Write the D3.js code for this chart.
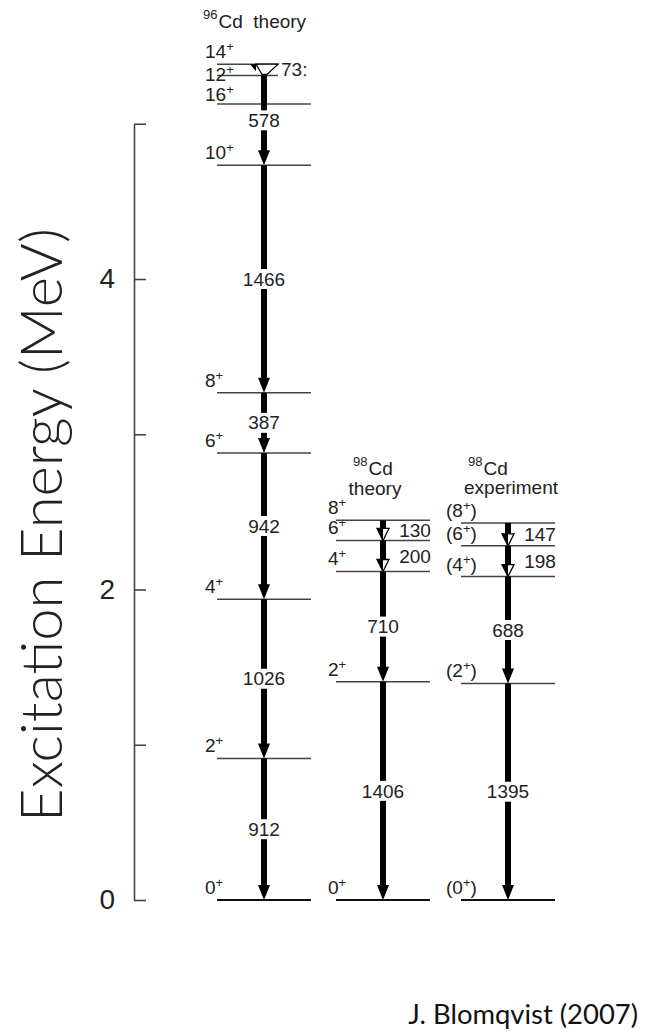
<!DOCTYPE html>
<html><head><meta charset="utf-8">
<script src="https://cdn.jsdelivr.net/npm/d3@7"></script>
<style>body{margin:0;background:#fff}svg{display:block}</style>
</head><body><svg id="c" width="646" height="1035"></svg>
<script>
// ---------------- DATA ----------------
const axisTicks = [0, 1, 2, 3, 4, 5];
const axisTickLabels = ["0", "", "2", "", "4", ""];

// 96Cd theory (energies in MeV)
const cd96Spins    = ["0", "2", "4", "6", "8", "10", "16", "12", "14"];
const cd96Energies = [0, 0.912, 1.938, 2.880, 3.267, 4.733, 5.127, 5.311, 5.384];
const cd96From  = ["14", "12", "10", "8", "6", "4", "2"];
const cd96To    = ["12", "10", "8", "6", "4", "2", "0"];
const cd96Gamma = ["73:", "578", "1466", "387", "942", "1026", "912"];

// 98Cd theory
const cd98tSpins    = ["0", "2", "4", "6", "8"];
const cd98tEnergies = [0, 1.406, 2.116, 2.316, 2.446];
const cd98tFrom  = ["8", "6", "4", "2"];
const cd98tTo    = ["6", "4", "2", "0"];
const cd98tGamma = ["130", "200", "710", "1406"];

// 98Cd experiment
const cd98eSpins    = ["0", "2", "4", "6", "8"];
const cd98eEnergies = [0, 1.395, 2.083, 2.281, 2.428];
const cd98eFrom  = ["8", "6", "4", "2"];
const cd98eTo    = ["6", "4", "2", "0"];
const cd98eGamma = ["147", "198", "688", "1395"];

const columnKeys = ["cd96", "cd98t", "cd98e"];

// ---------------- DRAW ----------------
const FONT = "'Liberation Sans', Arial, Helvetica, sans-serif";
const FS = 19;
const svg = d3.select("#c");
const y = d3.scaleLinear().domain([0, 5]).range([900, 123.75]);
const colX = d3.scaleOrdinal().domain(columnKeys).range([264, 383, 508]);

// axis
const axis = d3.axisLeft(y).tickValues(axisTicks)
  .tickFormat((d, i) => axisTickLabels[i])
  .tickSizeInner(-12).tickSizeOuter(0).tickPadding(19);
const ga = svg.append("g").attr("transform", "translate(134,0)").call(axis);
ga.select(".domain").attr("stroke", "#444").attr("stroke-width", 1.6);
ga.selectAll(".tick line").attr("stroke", "#444").attr("stroke-width", 1.6);
ga.selectAll(".tick text").attr("font-size", 28).attr("font-family", FONT).attr("fill", "#222");

// y label
const yl = svg.append("text")
  .attr("transform", "translate(62,525) rotate(-90)")
  .attr("text-anchor", "middle")
  .attr("font-family", "Lato, 'Open Sans', sans-serif")
  .attr("font-weight", 300)
  .attr("font-size", 40).attr("fill", "#222")
  .text("Excitation Energy (MeV)");
{ const w = yl.node().getComputedTextLength(); yl.attr("font-size", 40 * 594 / w); }

// credit
const cr = svg.append("text").attr("x", 638).attr("y", 1024)
  .attr("text-anchor", "end")
  .attr("font-family", "Lato, 'Open Sans', sans-serif")
  .attr("font-size", 30).attr("fill", "#111")
  .text("J. Blomqvist (2007)");
{ const w = cr.node().getComputedTextLength(); cr.attr("font-size", 30 * 230 / w); }

function spinLabel(x, yy, spin, paren) {
  const t = svg.append("text").attr("x", x).attr("y", yy)
    .attr("font-family", FONT).attr("font-size", FS).attr("fill", "#222");
  t.append("tspan").text((paren ? "(" : "") + spin);
  t.append("tspan").attr("font-size", 13).attr("dy", -7).text("+");
  if (paren) t.append("tspan").attr("font-size", FS).attr("dy", 7).text(")");
}

const columns = [
  { key: "cd96", spins: cd96Spins, E: cd96Energies, from: cd96From, to: cd96To, gam: cd96Gamma, paren: false, lab: -59 },
  { key: "cd98t", spins: cd98tSpins, E: cd98tEnergies, from: cd98tFrom, to: cd98tTo, gam: cd98tGamma, paren: false, lab: -55 },
  { key: "cd98e", spins: cd98eSpins, E: cd98eEnergies, from: cd98eFrom, to: cd98eTo, gam: cd98eGamma, paren: true, lab: -62 }
];

columns.forEach(col => {
  const cx = colX(col.key);
  const ey = s => y(col.E[col.spins.indexOf(s)]);
  // levels
  col.spins.forEach((s, i) => {
    const yy = y(col.E[i]);
    let x1 = cx + 47;
    if (col.key === "cd96" && (s === "12" || s === "14")) x1 = cx + 14;
    svg.append("line").attr("x1", cx - 47).attr("x2", x1).attr("y1", yy).attr("y2", yy)
      .attr("stroke", s === "0" ? "#111" : "#444").attr("stroke-width", s === "0" ? 2 : 1.5);
    let dy = -6;
    if (col.key === "cd96" && s === "12") dy = 6;
    if (col.key === "cd96" && s === "16") dy = -3;
    spinLabel(cx + col.lab, yy + dy, s, col.paren);
  });
  // transitions
  col.from.forEach((f, i) => {
    const y0 = ey(f), y1 = ey(col.to[i]);
    const len = y1 - y0;
    const g = col.gam[i];
    if (len < 15) {
      // tiny 14+ -> 12+ transition with funnel marker
      svg.append("path").attr("d", `M${cx-14},${y0}L${cx-8},${y0}L${cx-8},${y0+7}Z`).attr("fill", "#000");
      svg.append("path").attr("d", `M${cx-8},${y0}L${cx+14},${y0}L${cx+3},${y1-1}L${cx-2},${y1-1}Z`)
        .attr("fill", "#fff").attr("stroke", "#000").attr("stroke-width", 1.3);
      svg.append("text").attr("x", cx + 17).attr("y", (y0 + y1) / 2).attr("dy", "0.35em")
        .attr("font-family", FONT).attr("font-size", FS).attr("fill", "#222").text(g);
      return;
    }
    if (len < 40) {
      // short: half-open arrowhead, label beside
      const hl = 12, hw = 6;
      svg.append("rect").attr("x", cx - 3).attr("y", y0).attr("width", 6).attr("height", len - hl).attr("fill", "#000");
      svg.append("path").attr("d", `M${cx-hw},${y1-hl}L${cx+hw},${y1-hl}L${cx},${y1}Z`)
        .attr("fill", "#fff").attr("stroke", "#000").attr("stroke-width", 1.3);
      svg.append("path").attr("d", `M${cx-hw},${y1-hl}L${cx},${y1-hl}L${cx},${y1}Z`).attr("fill", "#000");
      svg.append("text").attr("x", cx + 32).attr("y", (y0 + y1) / 2).attr("dy", "0.35em")
        .attr("text-anchor", "middle").attr("font-family", FONT).attr("font-size", FS).attr("fill", "#222").text(g);
      return;
    }
    const hl = 15, hw = 6;
    svg.append("rect").attr("x", cx - 3).attr("y", y0).attr("width", 6).attr("height", len - hl + 1).attr("fill", "#000");
    svg.append("path").attr("d", `M${cx-hw},${y1-hl}L${cx+hw},${y1-hl}L${cx},${y1}Z`).attr("fill", "#000");
    const ym = (y0 + y1) / 2;
    const t = svg.append("text").attr("x", cx).attr("y", ym).attr("dy", "0.35em")
      .attr("text-anchor", "middle").attr("font-family", FONT).attr("font-size", FS).attr("fill", "#222").text(g);
    const w = t.node().getComputedTextLength();
    svg.insert("rect", () => t.node()).attr("x", cx - w / 2 - 2).attr("y", ym - 10).attr("width", w + 4).attr("height", 20).attr("fill", "#fff");
  });
});

// titles
function nucTitle(x, yy, mass, rest) {
  const t = svg.append("text").attr("x", x).attr("y", yy)
    .attr("font-family", FONT).attr("font-size", FS).attr("fill", "#222");
  t.append("tspan").attr("font-size", 13).attr("dy", -9).text(mass);
  t.append("tspan").attr("dy", 9).attr("dx", 1).text(rest);
  return t;
}
nucTitle(203, 28, "96", "Cd\u00a0\u00a0theory");
nucTitle(353, 475, "98", "Cd");
svg.append("text").attr("x", 375).attr("y", 495).attr("text-anchor", "middle")
  .attr("font-family", FONT).attr("font-size", FS).attr("fill", "#222").text("theory");
nucTitle(468, 475, "98", "Cd");
svg.append("text").attr("x", 511).attr("y", 494).attr("text-anchor", "middle")
  .attr("font-family", FONT).attr("font-size", FS).attr("fill", "#222").text("experiment");
</script>
</body></html>
